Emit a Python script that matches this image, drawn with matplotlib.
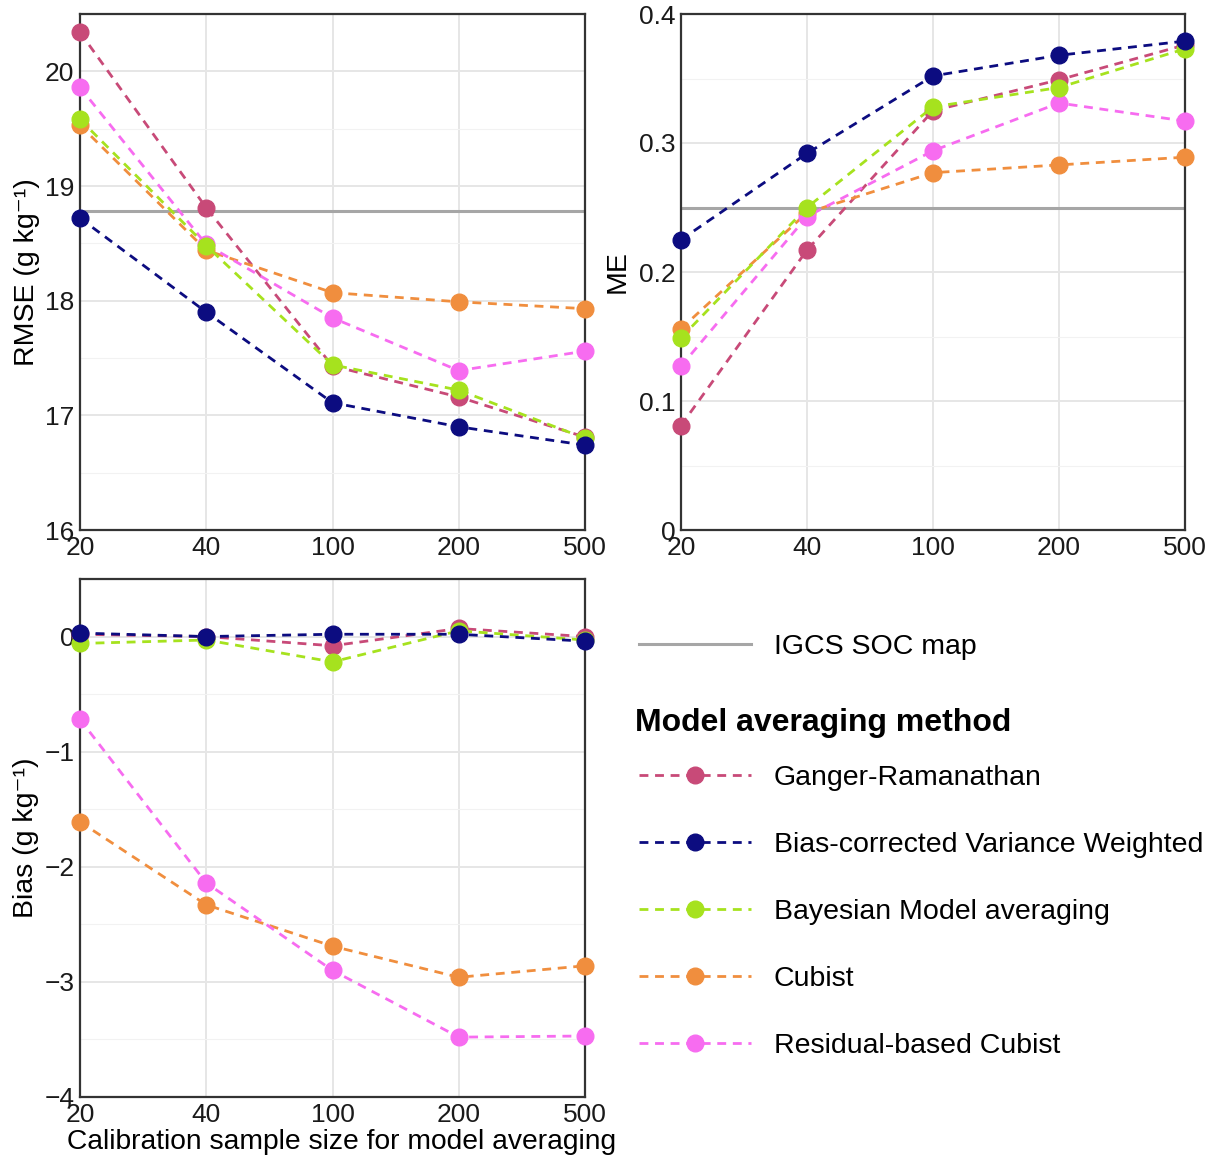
import numpy as np
import matplotlib
matplotlib.use("Agg")
import matplotlib.pyplot as plt
from matplotlib.lines import Line2D
from matplotlib.ticker import MultipleLocator, FuncFormatter

plt.rcParams['font.family'] = ['Liberation Sans', 'DejaVu Sans']

# data
sample_sizes = ['20', '40', '100', '200', '500']
methods = ['Ganger-Ramanathan', 'Bias-corrected Variance Weighted',
           'Bayesian Model averaging', 'Cubist', 'Residual-based Cubist']
colors = ['#c84a78', '#0c0c80', '#a6e21e', '#f08e3e', '#f76cf0']

rmse_gr = [20.34, 18.81, 17.43, 17.16, 16.81]
rmse_bcvw = [18.72, 17.90, 17.11, 16.90, 16.74]
rmse_bma = [19.58, 18.48, 17.44, 17.22, 16.80]
rmse_cub = [19.53, 18.44, 18.07, 17.99, 17.93]
rmse_rbc = [19.86, 18.49, 17.85, 17.39, 17.56]
rmse_igcs = 18.78

me_gr = [0.081, 0.217, 0.325, 0.349, 0.376]
me_bcvw = [0.225, 0.292, 0.352, 0.368, 0.379]
me_bma = [0.149, 0.250, 0.328, 0.343, 0.373]
me_cub = [0.156, 0.246, 0.277, 0.283, 0.289]
me_rbc = [0.127, 0.243, 0.294, 0.331, 0.317]
me_igcs = 0.25

bias_gr = [0.02, 0.0, -0.08, 0.07, 0.0]
bias_bcvw = [0.03, 0.0, 0.02, 0.02, -0.04]
bias_bma = [-0.06, -0.03, -0.22, 0.05, -0.03]
bias_cub = [-1.61, -2.33, -2.69, -2.96, -2.86]
bias_rbc = [-0.72, -2.14, -2.90, -3.48, -3.47]

W, H = 1218, 1162
DASH = (0, (3.2, 2.4))


def frac(left, top, right, bottom):
    return [left / W, 1 - bottom / H, (right - left) / W, (bottom - top) / H]


def fmt(v, _):
    s = f'{v:g}'
    return s.replace('-', '\u2212')


def style_axis(ax, ylim, major, minor):
    ax.set_xlim(0, len(sample_sizes) - 1)
    ax.set_ylim(*ylim)
    ax.set_xticks(range(len(sample_sizes)))
    ax.set_xticklabels(sample_sizes)
    ax.yaxis.set_major_locator(MultipleLocator(major))
    ax.yaxis.set_minor_locator(MultipleLocator(minor))
    ax.yaxis.set_major_formatter(FuncFormatter(fmt))
    ax.tick_params(which='both', length=0, labelsize=19, colors='#1a1a1a', pad=4)
    ax.grid(True, which='major', color='#e6e6e6', lw=1.4)
    ax.grid(True, which='minor', axis='y', color='#f2f2f2', lw=0.8)
    ax.set_axisbelow(True)
    for sp in ax.spines.values():
        sp.set_color('#333333')
        sp.set_linewidth(1.6)


def draw(ax, series, ref=None):
    x = np.arange(len(sample_sizes))
    if ref is not None:
        ax.axhline(ref, color='#a6a6a6', lw=2.2, zorder=2)
    order = [0, 3, 4, 2, 1]
    for i in order:
        ax.plot(x, series[i], color=colors[i], ls=DASH, lw=2.0,
                marker='o', ms=12, mec=colors[i], clip_on=False, zorder=3)


fig = plt.figure(figsize=(W / 100, H / 100), dpi=100)

ax1 = fig.add_axes(frac(80, 14, 585, 530))
draw(ax1, [rmse_gr, rmse_bcvw, rmse_bma, rmse_cub, rmse_rbc], rmse_igcs)
style_axis(ax1, (16, 20.5), 1, 0.5)
ax1.set_ylabel('RMSE (g kg\u207b\u00b9)', fontsize=20.5, labelpad=4)

ax2 = fig.add_axes(frac(681, 14, 1185, 530))
draw(ax2, [me_gr, me_bcvw, me_bma, me_cub, me_rbc], me_igcs)
style_axis(ax2, (0, 0.4), 0.1, 0.05)
ax2.set_ylabel('ME', fontsize=20.5, labelpad=6)

ax3 = fig.add_axes(frac(80, 579, 585, 1097))
draw(ax3, [bias_gr, bias_bcvw, bias_bma, bias_cub, bias_rbc])
style_axis(ax3, (-4, 0.5), 1, 0.5)
ax3.set_ylabel('Bias (g kg\u207b\u00b9)', fontsize=20.5, labelpad=4)
ax3.set_xlabel('Calibration sample size for model averaging', fontsize=20.3)
ax3.xaxis.set_label_coords((342 - 80) / 505, -32 / 518, transform=ax3.transAxes)

# legends
ref_handle = [Line2D([], [], color='#a6a6a6', lw=2.2)]
fig.legend(ref_handle, ['IGCS SOC map'], loc='upper left',
           bbox_to_anchor=(613 / W, 1 - 608 / H), frameon=False,
           fontsize=20.5, handlelength=3.95, handletextpad=0.8)

fig.text(635 / W, 1 - 723 / H, 'Model averaging method', fontsize=23,
         fontweight='bold', ha='left', va='center')

method_handles = [Line2D([], [], color=c, ls=DASH, lw=2.0,
                         marker='o', ms=12) for c in colors]
fig.legend(method_handles, methods, loc='upper left',
           bbox_to_anchor=(613 / W, 1 - 739 / H), frameon=False,
           fontsize=20.5, handlelength=3.95, handletextpad=0.8,
           labelspacing=1.44)

fig.savefig('out.png', dpi=100, facecolor='white')
